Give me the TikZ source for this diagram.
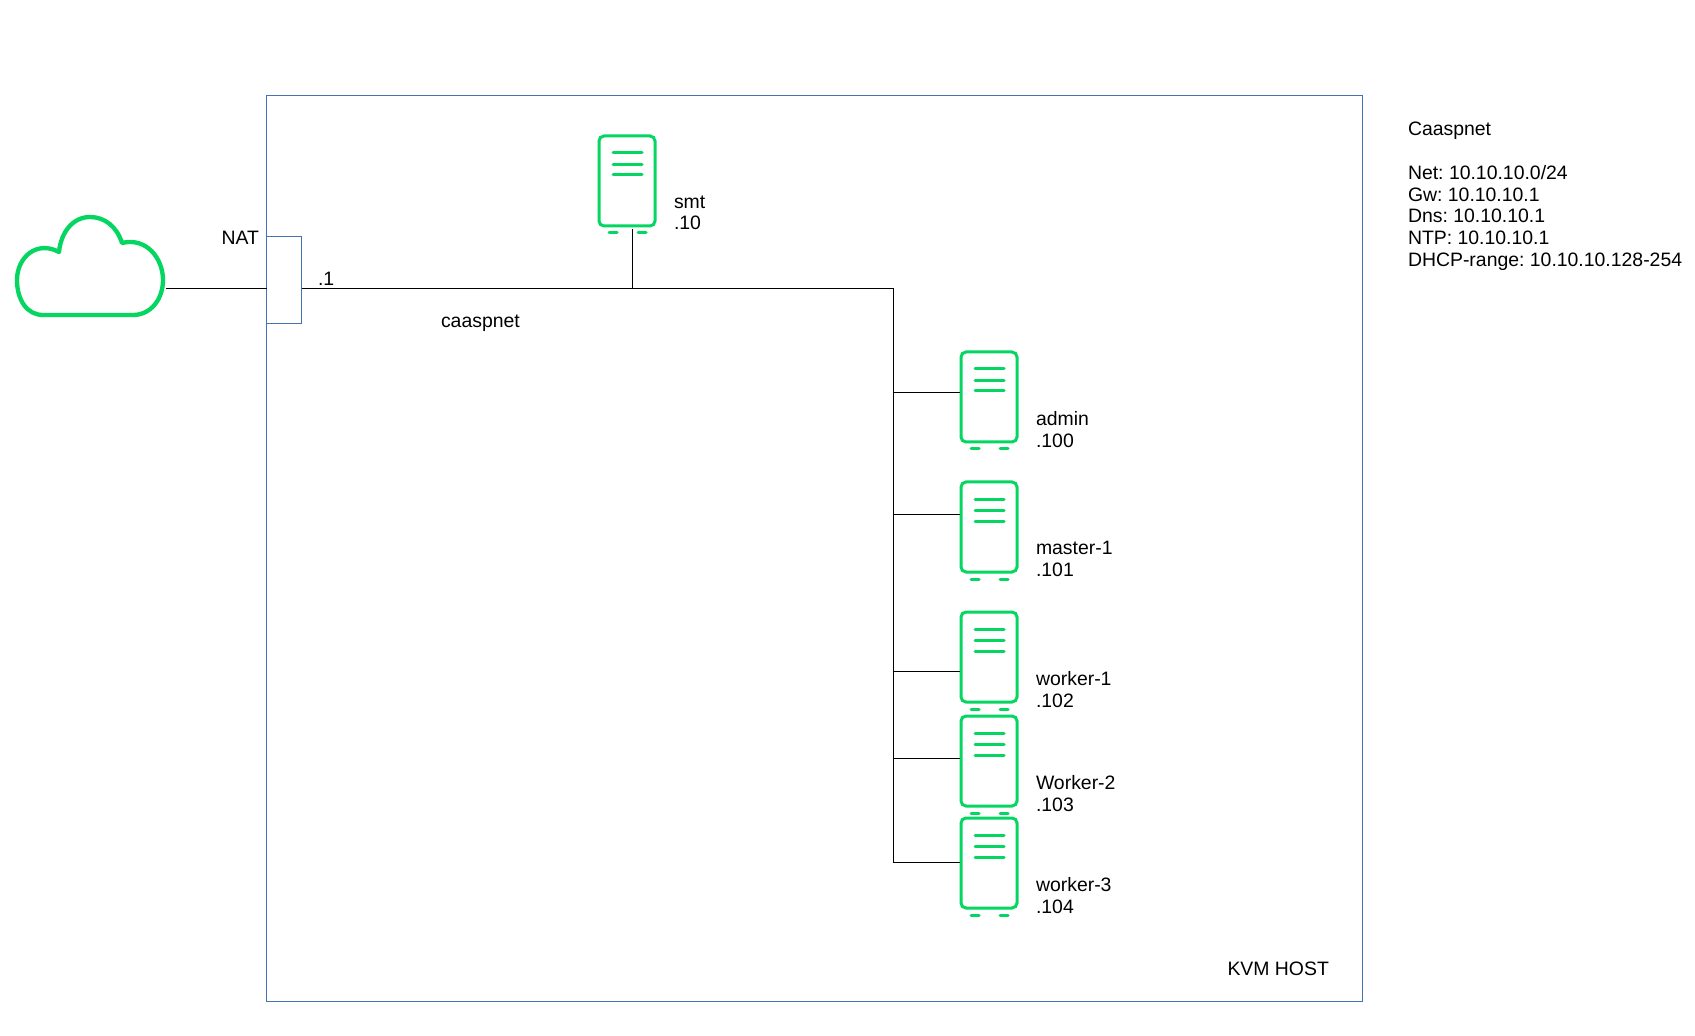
\documentclass[tikz,border=0pt]{standalone}
\usepackage{fontspec}
\setmainfont{Liberation Sans}
\definecolor{srvgreen}{HTML}{05D561}
\definecolor{hostblue}{HTML}{4472B4}
\tikzset{
  wire/.style={draw=black,line width=0.6pt},
  srvbox/.style={draw=srvgreen,line width=1.8pt,rounded corners=3pt,minimum width=33.6pt,minimum height=54pt,inner sep=0pt,outer sep=0.9pt,anchor=north west},
  srvline/.style={draw=srvgreen,line width=1.8pt,line cap=round},
  bluebox/.style={draw=hostblue,line width=0.6pt,inner sep=0pt,outer sep=0pt,anchor=north west},
  lbl/.style={font=\fontsize{11.65}{13.1}\selectfont\frenchspacing,align=left,inner sep=0pt,outer sep=0pt},
}
\begin{document}
\begin{tikzpicture}[x=0.6pt,y=-0.6pt]
\useasboundingbox (0,0) rectangle (1695,1036);

%host frame and nat box
\node[bluebox,minimum width=657.6pt,minimum height=543.3pt] (kvm) at (266.5,96) {};
\node[bluebox,minimum width=21pt,minimum height=52.2pt] (nat) at (266.5,237) {};

%cloud
\draw[srvgreen,line width=2.6pt,line join=round] (43,315) -- (133,315)
  .. controls (151,315) and (163,299) .. (163,280)
  .. controls (163,258) and (146,237) .. (122,243)
  .. controls (117,227) and (105,217) .. (90,217)
  .. controls (73,217) and (61,232) .. (59,252)
  .. controls (37,240) and (17,257) .. (17,280)
  .. controls (17,300) and (27,315) .. (43,315) -- cycle;
\coordinate (cloudr) at (166,288.5);

%servers
\foreach \nm/\sx/\sy/\lab/\ip in {smt/599/136/smt/.10,admin/961/352/admin/.100,master/961/482/master-1/.101,wone/961/612/worker-1/.102,wtwo/961/716/Worker-2/.103,wthree/961/818/worker-3/.104}{
\begin{scope}[shift={(\sx,\sy)}]
\node[srvbox] (\nm) at (-1.5,-1.5) {};
\foreach \ly in {17,28.5,39}
  \draw[srvline] (14,\ly)--(43,\ly);
\draw[srvline] (10,97)--(18,97);
\draw[srvline] (39,97)--(47,97);
\node[lbl,anchor=north west] (\nm lbl) at (75,59.5) {\lab\\\ip};
\end{scope}
}

%connectors
\coordinate (smtj) at (632,288.5);
\coordinate (busr) at (893,288.5);
\coordinate (jadmin) at (893,392.5);
\coordinate (jmaster) at (893,514.5);
\coordinate (jwone) at (893,671);
\coordinate (jwtwo) at (893,758);
\coordinate (jwthree) at (893,862);
\coordinate (smtb) at (632,229);
\draw[wire] (cloudr)--(cloudr -| nat.west);
\draw[wire] (busr -| nat.east)--(busr)--(jwthree);
\draw[wire] (smtb)--(smtj);
\foreach \nm in {admin,master,wone,wtwo,wthree}
  \draw[wire] (j\nm)--(j\nm -| \nm.west);

%labels
\node[lbl,anchor=base east] (natlbl) at (259,244.5) {NAT};
\node[lbl,anchor=base west] (gwlbl) at (318,285.5) {.1};
\node[lbl,anchor=base west] (netlbl) at (441,328) {caaspnet};
\node[lbl,anchor=base west] (kvmlbl) at (1227.5,975) {KVM HOST};
\node[lbl,anchor=north west] (infolbl) at (1408,122) {Caaspnet\\[13.1pt]Net: 10.10.10.0/24\\Gw: 10.10.10.1\\Dns: 10.10.10.1\\NTP: 10.10.10.1\\DHCP-range: 10.10.10.128-254};
\end{tikzpicture}
\end{document}
